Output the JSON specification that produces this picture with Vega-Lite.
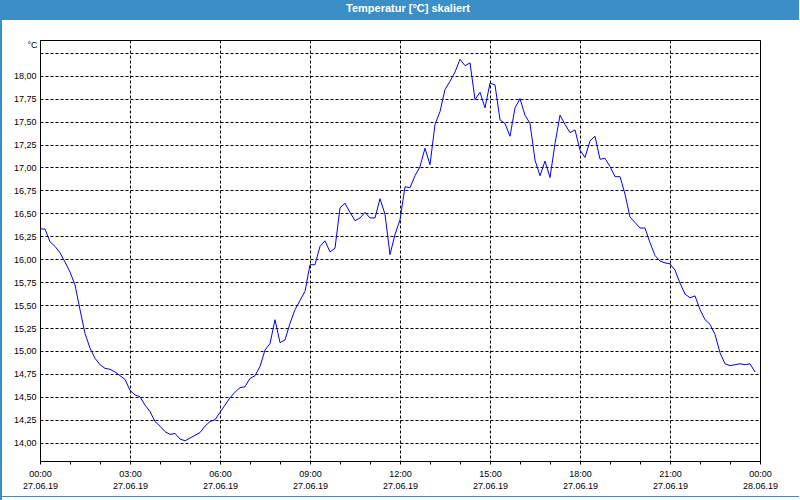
{
  "$schema": "https://vega.github.io/schema/vega-lite/v6.json",
  "padding": 0,
  "autosize": {"type": "pad"},
  "background": "#ffffff",
  "spacing": 0,
  "bounds": "flush",
  "config": {"view": {"stroke": null}, "font": "Liberation Sans"},
  "hconcat": [
    {"width": 1, "height": 500, "view": {"fill": "#3c8fc6", "stroke": null}, "data": {"values": []}, "mark": "point"},
    {
      "spacing": 20,
      "bounds": "flush",
      "vconcat": [
        {
          "width": 798, "height": 20,
          "view": {"fill": "#3c8fc6", "stroke": null},
          "data": {"values": [{"title": "Temperatur [°C] skaliert"}]},
          "mark": {"type": "text", "color": "#ffffff", "fontWeight": "bold", "fontSize": 11, "dx": 8, "dy": -1},
          "encoding": {"text": {"field": "title"}}
        },
        {
          "spacing": 5,
          "bounds": "full",
          "vconcat": [
            {
              "spacing": 0,
              "bounds": "flush",
              "hconcat": [
                {"width": 39, "height": 421, "data": {"values": []}, "mark": "point"},
                {
                  "width": 720, "height": 421,
                  "view": {"stroke": "#000000", "strokeWidth": 1, "fill": "#ffffff"},
                  "data": {"values": [
{"t":"2019-06-27T00:00:00Z","v":16.33},{"t":"2019-06-27T00:10:00Z","v":16.33},{"t":"2019-06-27T00:20:00Z","v":16.19},{"t":"2019-06-27T00:30:00Z","v":16.14},{"t":"2019-06-27T00:40:00Z","v":16.07},{"t":"2019-06-27T00:50:00Z","v":15.97},
{"t":"2019-06-27T01:00:00Z","v":15.86},{"t":"2019-06-27T01:10:00Z","v":15.72},{"t":"2019-06-27T01:20:00Z","v":15.45},{"t":"2019-06-27T01:30:00Z","v":15.19},{"t":"2019-06-27T01:40:00Z","v":15.03},{"t":"2019-06-27T01:50:00Z","v":14.92},
{"t":"2019-06-27T02:00:00Z","v":14.85},{"t":"2019-06-27T02:10:00Z","v":14.81},{"t":"2019-06-27T02:20:00Z","v":14.80},{"t":"2019-06-27T02:30:00Z","v":14.77},{"t":"2019-06-27T02:40:00Z","v":14.73},{"t":"2019-06-27T02:50:00Z","v":14.69},
{"t":"2019-06-27T03:00:00Z","v":14.57},{"t":"2019-06-27T03:10:00Z","v":14.52},{"t":"2019-06-27T03:20:00Z","v":14.50},{"t":"2019-06-27T03:30:00Z","v":14.41},{"t":"2019-06-27T03:40:00Z","v":14.34},{"t":"2019-06-27T03:50:00Z","v":14.23},
{"t":"2019-06-27T04:00:00Z","v":14.18},{"t":"2019-06-27T04:10:00Z","v":14.12},{"t":"2019-06-27T04:20:00Z","v":14.09},{"t":"2019-06-27T04:30:00Z","v":14.10},{"t":"2019-06-27T04:40:00Z","v":14.04},{"t":"2019-06-27T04:50:00Z","v":14.02},
{"t":"2019-06-27T05:00:00Z","v":14.05},{"t":"2019-06-27T05:10:00Z","v":14.08},{"t":"2019-06-27T05:20:00Z","v":14.11},{"t":"2019-06-27T05:30:00Z","v":14.18},{"t":"2019-06-27T05:40:00Z","v":14.23},{"t":"2019-06-27T05:50:00Z","v":14.25},
{"t":"2019-06-27T06:00:00Z","v":14.33},{"t":"2019-06-27T06:10:00Z","v":14.41},{"t":"2019-06-27T06:20:00Z","v":14.49},{"t":"2019-06-27T06:30:00Z","v":14.55},{"t":"2019-06-27T06:40:00Z","v":14.60},{"t":"2019-06-27T06:50:00Z","v":14.61},
{"t":"2019-06-27T07:00:00Z","v":14.70},{"t":"2019-06-27T07:10:00Z","v":14.73},{"t":"2019-06-27T07:20:00Z","v":14.83},{"t":"2019-06-27T07:30:00Z","v":15.01},{"t":"2019-06-27T07:40:00Z","v":15.08},{"t":"2019-06-27T07:50:00Z","v":15.34},
{"t":"2019-06-27T08:00:00Z","v":15.09},{"t":"2019-06-27T08:10:00Z","v":15.12},{"t":"2019-06-27T08:20:00Z","v":15.30},{"t":"2019-06-27T08:30:00Z","v":15.45},{"t":"2019-06-27T08:40:00Z","v":15.55},{"t":"2019-06-27T08:50:00Z","v":15.65},
{"t":"2019-06-27T09:00:00Z","v":15.94},{"t":"2019-06-27T09:10:00Z","v":15.94},{"t":"2019-06-27T09:20:00Z","v":16.14},{"t":"2019-06-27T09:30:00Z","v":16.20},{"t":"2019-06-27T09:40:00Z","v":16.08},{"t":"2019-06-27T09:50:00Z","v":16.12},
{"t":"2019-06-27T10:00:00Z","v":16.56},{"t":"2019-06-27T10:10:00Z","v":16.61},{"t":"2019-06-27T10:20:00Z","v":16.51},{"t":"2019-06-27T10:30:00Z","v":16.42},{"t":"2019-06-27T10:40:00Z","v":16.45},{"t":"2019-06-27T10:50:00Z","v":16.51},
{"t":"2019-06-27T11:00:00Z","v":16.45},{"t":"2019-06-27T11:10:00Z","v":16.45},{"t":"2019-06-27T11:20:00Z","v":16.66},{"t":"2019-06-27T11:30:00Z","v":16.49},{"t":"2019-06-27T11:40:00Z","v":16.05},{"t":"2019-06-27T11:50:00Z","v":16.27},
{"t":"2019-06-27T12:00:00Z","v":16.43},{"t":"2019-06-27T12:10:00Z","v":16.79},{"t":"2019-06-27T12:20:00Z","v":16.78},{"t":"2019-06-27T12:30:00Z","v":16.91},{"t":"2019-06-27T12:40:00Z","v":17.01},{"t":"2019-06-27T12:50:00Z","v":17.21},
{"t":"2019-06-27T13:00:00Z","v":17.03},{"t":"2019-06-27T13:10:00Z","v":17.47},{"t":"2019-06-27T13:20:00Z","v":17.61},{"t":"2019-06-27T13:30:00Z","v":17.85},{"t":"2019-06-27T13:40:00Z","v":17.94},{"t":"2019-06-27T13:50:00Z","v":18.04},
{"t":"2019-06-27T14:00:00Z","v":18.18},{"t":"2019-06-27T14:10:00Z","v":18.11},{"t":"2019-06-27T14:20:00Z","v":18.14},{"t":"2019-06-27T14:30:00Z","v":17.74},{"t":"2019-06-27T14:40:00Z","v":17.82},{"t":"2019-06-27T14:50:00Z","v":17.65},
{"t":"2019-06-27T15:00:00Z","v":17.92},{"t":"2019-06-27T15:10:00Z","v":17.90},{"t":"2019-06-27T15:20:00Z","v":17.52},{"t":"2019-06-27T15:30:00Z","v":17.48},{"t":"2019-06-27T15:40:00Z","v":17.34},{"t":"2019-06-27T15:50:00Z","v":17.65},
{"t":"2019-06-27T16:00:00Z","v":17.75},{"t":"2019-06-27T16:10:00Z","v":17.57},{"t":"2019-06-27T16:20:00Z","v":17.48},{"t":"2019-06-27T16:30:00Z","v":17.08},{"t":"2019-06-27T16:40:00Z","v":16.91},{"t":"2019-06-27T16:50:00Z","v":17.07},
{"t":"2019-06-27T17:00:00Z","v":16.89},{"t":"2019-06-27T17:10:00Z","v":17.26},{"t":"2019-06-27T17:20:00Z","v":17.57},{"t":"2019-06-27T17:30:00Z","v":17.47},{"t":"2019-06-27T17:40:00Z","v":17.38},{"t":"2019-06-27T17:50:00Z","v":17.41},
{"t":"2019-06-27T18:00:00Z","v":17.19},{"t":"2019-06-27T18:10:00Z","v":17.11},{"t":"2019-06-27T18:20:00Z","v":17.29},{"t":"2019-06-27T18:30:00Z","v":17.34},{"t":"2019-06-27T18:40:00Z","v":17.09},{"t":"2019-06-27T18:50:00Z","v":17.10},
{"t":"2019-06-27T19:00:00Z","v":17.01},{"t":"2019-06-27T19:10:00Z","v":16.90},{"t":"2019-06-27T19:20:00Z","v":16.90},{"t":"2019-06-27T19:30:00Z","v":16.71},{"t":"2019-06-27T19:40:00Z","v":16.46},{"t":"2019-06-27T19:50:00Z","v":16.40},
{"t":"2019-06-27T20:00:00Z","v":16.34},{"t":"2019-06-27T20:10:00Z","v":16.34},{"t":"2019-06-27T20:20:00Z","v":16.18},{"t":"2019-06-27T20:30:00Z","v":16.04},{"t":"2019-06-27T20:40:00Z","v":15.98},{"t":"2019-06-27T20:50:00Z","v":15.96},
{"t":"2019-06-27T21:00:00Z","v":15.95},{"t":"2019-06-27T21:10:00Z","v":15.88},{"t":"2019-06-27T21:20:00Z","v":15.74},{"t":"2019-06-27T21:30:00Z","v":15.62},{"t":"2019-06-27T21:40:00Z","v":15.58},{"t":"2019-06-27T21:50:00Z","v":15.60},
{"t":"2019-06-27T22:00:00Z","v":15.45},{"t":"2019-06-27T22:10:00Z","v":15.34},{"t":"2019-06-27T22:20:00Z","v":15.29},{"t":"2019-06-27T22:30:00Z","v":15.18},{"t":"2019-06-27T22:40:00Z","v":14.98},{"t":"2019-06-27T22:50:00Z","v":14.86},
{"t":"2019-06-27T23:00:00Z","v":14.84},{"t":"2019-06-27T23:10:00Z","v":14.85},{"t":"2019-06-27T23:20:00Z","v":14.86},{"t":"2019-06-27T23:30:00Z","v":14.85},{"t":"2019-06-27T23:40:00Z","v":14.86},{"t":"2019-06-27T23:50:00Z","v":14.77}
                  ]},
                  "mark": {"type": "line", "color": "#0000ff", "strokeWidth": 1},
                  "encoding": {
                    "x": {
                      "field": "t", "type": "temporal",
                      "scale": {"type": "utc", "domain": [1561593600000, 1561680000000], "nice": false},
                      "axis": {
                        "title": null,
                        "values": [1561593600000,1561597200000,1561600800000,1561604400000,1561608000000,1561611600000,1561615200000,1561618800000,1561622400000,1561626000000,1561629600000,1561633200000,1561636800000,1561640400000,1561644000000,1561647600000,1561651200000,1561654800000,1561658400000,1561662000000,1561665600000,1561669200000,1561672800000,1561676400000,1561680000000],
                        "labelExpr": "utchours(datum.value) % 3 == 0 ? [utcFormat(datum.value, '%H:%M'), utcFormat(datum.value, '%d.%m.%y')] : ''",
                        "domain": false,
                        "ticks": true, "tickSize": 3, "tickColor": "#000000", "tickWidth": 1,
                        "grid": true, "gridColor": "#000000", "gridDash": [3, 2], "gridWidth": 1,
                        "gridOpacity": {"condition": {"test": "utchours(datum.value) % 3 == 0", "value": 1}, "value": 0},
                        "labelFontSize": 9, "labelColor": "#000000", "labelPadding": 5, "labelLineHeight": 12,
                        "labelFlush": false, "labelOverlap": false, "labelBaseline": "top"
                      }
                    },
                    "y": {
                      "field": "v", "type": "quantitative",
                      "scale": {"domain": [13.8, 18.39], "nice": false, "zero": false},
                      "axis": {
                        "title": "°C", "titleAngle": 0, "titleAlign": "right", "titleBaseline": "top",
                        "titleX": -3, "titleY": 0, "titleFontSize": 9, "titleFontWeight": "normal", "titleColor": "#000000",
                        "values": [14, 14.25, 14.5, 14.75, 15, 15.25, 15.5, 15.75, 16, 16.25, 16.5, 16.75, 17, 17.25, 17.5, 17.75, 18, 18.25],
                        "labelExpr": "datum.value > 18.1 ? '' : replace(format(datum.value, '.2f'), '.', ',')",
                        "domain": false, "ticks": false, "tickSize": 0,
                        "grid": true, "gridColor": "#000000", "gridDash": [3, 2], "gridWidth": 1,
                        "labelFontSize": 9, "labelColor": "#000000", "labelPadding": 4, "labelOverlap": false
                      }
                    }
                  }
                }
              ]
            },
            {"width": 798, "height": 1, "view": {"fill": "#3c8fc6", "stroke": null}, "data": {"values": []}, "mark": "point"}
          ]
        }
      ]
    },
    {"width": 1, "height": 500, "view": {"fill": "#3c8fc6", "stroke": null}, "data": {"values": []}, "mark": "point"}
  ]
}
